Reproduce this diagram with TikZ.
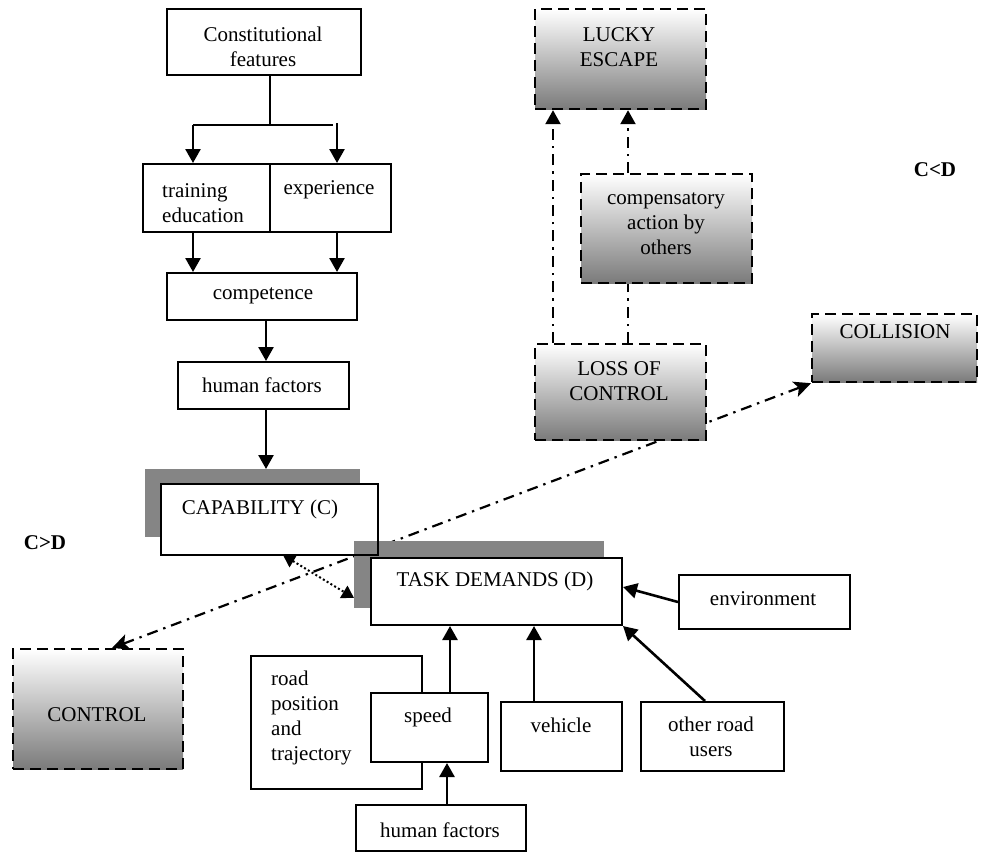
\documentclass[tikz,border=0pt]{standalone}
\usepackage{fontspec}
\setmainfont{Liberation Serif}
\usetikzlibrary{arrows.meta,backgrounds}
\begin{document}
\begin{tikzpicture}[x=1pt,y=-1pt,
  font=\fontsize{21}{25}\selectfont,
  plainbox/.style={draw, line width=2pt, fill=white, anchor=north west, inner sep=0pt},
  outcome/.style={draw, line width=2.2pt, dash pattern=on 11pt off 6pt,
    top color=white, bottom color=black!52, anchor=north west, inner sep=0pt},
  shadowbox/.style={fill=black!48, draw=none, anchor=north west, inner sep=0pt},
  txt/.style={inner sep=0pt, align=center},
  ltxt/.style={inner sep=0pt, align=left, anchor=west},
  flow/.style={line width=2.6pt, -{Triangle[length=14pt,width=15pt]}},
  dashdot/.style={line width=2.2pt, dash pattern=on 11pt off 6pt on 2.4pt off 6pt},
  tip/.style={-{Triangle[length=14pt,width=15pt]}},
  stip/.style={{Stealth[length=17pt,width=16pt,inset=4pt]}-{Stealth[length=17pt,width=16pt,inset=4pt]}},
  dots/.style={line width=2pt, dash pattern=on 2pt off 2.4pt,
    {Triangle[length=12pt,width=14pt]}-{Triangle[length=12pt,width=14pt]}}
]
\useasboundingbox (0,0) rectangle (981,852);

% ---- capability chain ----
\node[plainbox, minimum width=194pt, minimum height=66pt] (cf) at (166,8) {};
\node[txt] (tcf) at (263,47) {Constitutional\\features};

\node[plainbox, minimum width=127pt, minimum height=68pt] (tr) at (142,163) {};
\node[plainbox, minimum width=121pt, minimum height=68pt] (ex) at (269,163) {};
\node[ltxt] (ttr) at (162,203) {training\\education};
\node[txt] (tex) at (329,190) {experience};

\node[plainbox, minimum width=190pt, minimum height=47pt] (co) at (166,272) {};
\node[txt] (tco) at (263,296) {competence};

\node[plainbox, minimum width=171pt, minimum height=47pt] (hf) at (177,361) {};
\node[txt] (thf) at (262,385) {human factors};

% ---- capability and task demands with offset shadows ----
\node[shadowbox, minimum width=215pt, minimum height=68pt] (capsh) at (145,469) {};
\node[plainbox, draw=none, minimum width=215pt, minimum height=69pt] (cap) at (161,484) {};
\node[txt] (tcap) at (260,509) {CAPABILITY (C)};
\node[shadowbox, minimum width=250pt, minimum height=67pt] (tdsh) at (354,541) {};
\draw[line width=2pt] (cap.north west) rectangle (cap.south east);
\node[plainbox, minimum width=251pt, minimum height=67pt] (td) at (370,557) {};
\node[txt] (ttd) at (495,581) {TASK DEMANDS (D)};

% ---- contributing factors ----
\node[plainbox, minimum width=171pt, minimum height=54pt] (env) at (678,574) {};
\node[txt] (tenv) at (763,599) {environment};
\node[plainbox, minimum width=121pt, minimum height=69pt] (vh) at (500,701) {};
\node[txt] (tvh) at (561,725) {vehicle};
\node[plainbox, minimum width=143pt, minimum height=69pt] (oru) at (640,701) {};
\node[txt] (toru) at (711,737) {other road\\users};
\node[plainbox, minimum width=171pt, minimum height=133pt] (rp) at (250,655) {};
\node[ltxt] (trp) at (271,718) {road\\position\\and\\trajectory};
\node[plainbox, minimum width=117pt, minimum height=69pt] (sp) at (370,692) {};
\node[txt] (tsp) at (428,717) {speed};
\node[plainbox, minimum width=170pt, minimum height=46pt] (hfb) at (355,804) {};
\node[txt] (thfb) at (440,830) {human factors};

% ---- outcomes ----
\node[outcome, minimum width=171pt, minimum height=100pt] (le) at (534,8) {};
\node[txt] (tle) at (619,47) {LUCKY\\ESCAPE};
\node[outcome, minimum width=171pt, minimum height=109pt] (comp) at (580,173) {};
\node[txt] (tcomp) at (666,224) {compensatory\\action by\\others};
\node[outcome, minimum width=171pt, minimum height=96pt] (loc) at (534,343) {};
\node[txt] (tloc) at (619,381) {LOSS OF\\CONTROL};
\node[outcome, minimum width=165pt, minimum height=68pt] (col) at (811,313) {};
\node[txt] (tcol) at (895,332) {COLLISION};
\node[outcome, minimum width=170pt, minimum height=120pt] (ctl) at (12,648) {};
\node[txt] (tctl) at (97,715) {CONTROL};

\node[txt, font=\fontsize{21}{25}\selectfont\bfseries] (cltd) at (935,170) {C<D};
\node[txt, font=\fontsize{21}{25}\selectfont\bfseries] (cgtd) at (45,543) {C>D};

% ---- connectors ----
\coordinate (j) at (270,125);
\draw[line width=2.6pt] (cf.south -| j) -- (j);
\draw[line width=2.6pt] (j) -- (193,125);
\draw[line width=2.6pt] (j) -- (333,125);
\draw[flow] (193,125) -- (tr.north -| 193,0);
\draw[flow] (337,123) -- (ex.north -| 337,0);
\draw[flow] (tr.south -| 193,0) -- (co.north -| 193,0);
\draw[flow] (ex.south -| 337,0) -- (co.north -| 337,0);
\draw[flow] (co.south -| 266,0) -- (hf.north -| 266,0);
\draw[flow] (hf.south -| 266,0) -- (capsh.north -| 266,0);

\draw[dots] (cap.south -| 283,0) -- (tdsh.west |- 0,598);

\draw[flow] (env.west |- 0,602) -- (td.east |- 0,587);
\draw[flow] (vh.north -| 534,0) -- (td.south -| 534,0);
\draw[flow] (oru.north -| 705,0) -- (td.south east);
\draw[flow] (sp.north -| 450,0) -- (td.south -| 450,0);
\draw[flow] (hfb.north -| 447,0) -- (sp.south -| 447,0);

\draw[dashdot, tip] (loc.north -| 553,0) -- (le.south -| 553,0);
\draw[dashdot, tip] (comp.north -| 628,0) -- (le.south -| 628,0);
\draw[dashdot] (loc.north -| 628,0) -- (comp.south -| 628,0);

\begin{scope}[on background layer]
\draw[dashdot, stip] (ctl.north -| 112,0) -- (col.south west);
\end{scope}
\end{tikzpicture}
\end{document}
